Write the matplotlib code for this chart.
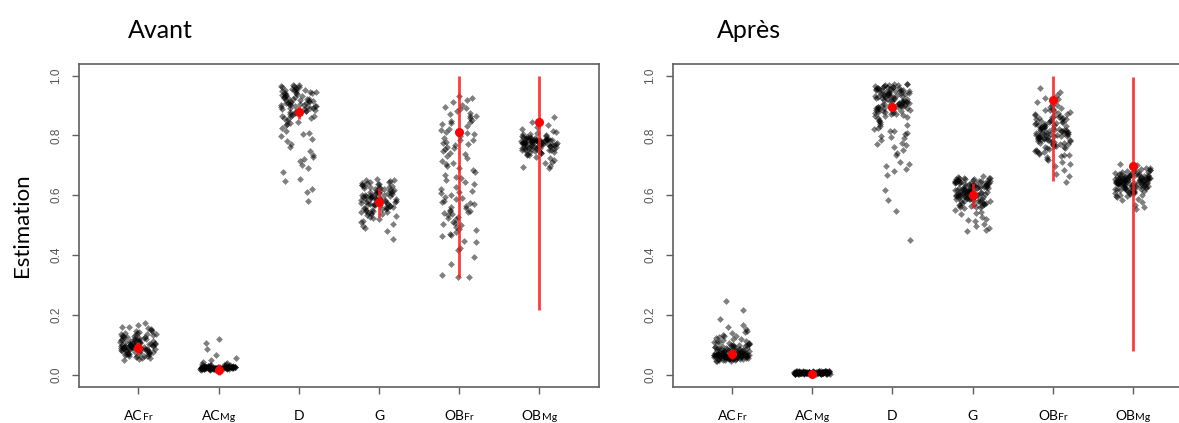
import numpy as np
import matplotlib
matplotlib.use("Agg")
import matplotlib.pyplot as plt
from matplotlib.transforms import ScaledTranslation, blended_transform_factory

# category labels: (large part, small part)
CATS = [("AC", "Fr"), ("AC", "Mg"), ("D", ""), ("G", ""), ("OB", "Fr"), ("OB", "Mg")]

# --- Avant: individual estimates (thousandths) ---
avant_acfr = [88, 102, 131, 67, 95, 119, 74, 143, 86, 109, 61, 127, 92, 158, 79, 104, 115, 69, 98, 136,
              83, 121, 57, 107, 90, 149, 73, 112, 96, 165, 81, 125, 64, 100, 138, 87, 117, 71, 94, 106,
              153, 77, 129, 60, 99, 111, 85, 140, 68, 103, 123, 91, 173, 76, 114, 97, 133, 63, 108, 84,
              147, 101, 70, 118, 93, 128, 55, 105, 89, 160, 80, 113, 66, 96, 135, 82, 120, 72, 110, 93,
              145, 52, 100, 126, 87, 116, 75, 98, 132, 62, 107, 90, 155, 78, 122, 48, 104, 86, 137, 95]
avant_acmg = [22, 25, 19, 28, 21, 24, 30, 18, 26, 23, 20, 27, 22, 33, 19, 25, 21, 29, 24, 17,
              26, 22, 31, 20, 23, 27, 18, 25, 21, 120, 24, 28, 19, 22, 26, 35, 20, 23, 105, 25,
              21, 30, 18, 24, 27, 22, 19, 26, 85, 23, 21, 28, 25, 20, 32, 22, 24, 18, 27, 23,
              65, 21, 26, 19, 25, 29, 22, 20, 24, 36, 23, 18, 27, 21, 55, 25, 22, 30, 19, 24,
              26, 20, 48, 23, 28, 21, 25, 17, 22, 34, 24, 19, 26, 42, 23, 20, 27, 21, 38, 25]
avant_d = [955, 912, 878, 940, 896, 863, 925, 968, 884, 905, 842, 931, 950, 871, 918, 897, 960, 853, 889, 934,
           907, 876, 946, 921, 965, 858, 893, 915, 938, 870, 903, 952, 886, 927, 845, 909, 962, 881, 917, 899,
           943, 866, 929, 956, 891, 873, 911, 936, 848, 968, 901, 924, 882, 947, 864, 913, 958, 895, 833, 920,
           941, 877, 906, 966, 888, 826, 932, 902, 859, 948, 815, 898, 923, 868, 944, 808, 880, 916, 797, 953,
           789, 874, 771, 908, 762, 939, 748, 890, 735, 722, 715, 702, 691, 679, 655, 648, 621, 612, 582, 726,
           780, 805, 838]
avant_g = [598, 563, 621, 547, 584, 640, 572, 609, 531, 590, 627, 556, 602, 645, 568, 579, 614, 541, 595, 633,
           551, 587, 618, 525, 575, 606, 648, 560, 592, 629, 544, 581, 612, 566, 637, 553, 599, 624, 535, 578,
           603, 652, 557, 589, 616, 520, 570, 596, 641, 548, 585, 630, 562, 607, 538, 593, 619, 574, 650, 545,
           583, 610, 528, 566, 600, 635, 555, 591, 623, 515, 577, 604, 643, 549, 588, 626, 558, 597, 510, 571,
           613, 639, 542, 582, 601, 655, 564, 594, 505, 620, 576, 536, 608, 498, 586, 490, 632, 482, 569, 455]
avant_obfr = [912, 845, 768, 703, 621, 578, 534, 487, 865, 797, 742, 668, 594, 552, 501, 443, 889, 821, 776, 715,
              652, 587, 546, 512, 462, 925, 858, 804, 753, 690, 606, 563, 528, 478, 418, 893, 837, 785, 731, 676,
              615, 571, 540, 495, 392, 930, 872, 812, 762, 709, 645, 582, 557, 519, 466, 370, 881, 830, 779, 724,
              662, 599, 548, 508, 448, 333, 903, 849, 791, 747, 696, 628, 574, 536, 483, 328, 918, 866, 817, 758,
              684, 610, 560, 523, 471, 327, 876, 841, 786, 737, 658, 591, 544, 505, 425, 896, 852, 809, 770, 639]
avant_obmg = [782, 765, 791, 748, 776, 803, 759, 785, 771, 742, 795, 779, 754, 788, 768, 812, 781, 736, 774, 797,
              762, 786, 751, 778, 820, 769, 783, 745, 790, 773, 757, 801, 780, 727, 766, 787, 750, 775, 794, 761,
              784, 718, 772, 809, 756, 779, 743, 789, 767, 783, 706, 776, 798, 753, 781, 764, 828, 770, 739, 786,
              758, 777, 805, 749, 782, 694, 771, 792, 760, 779, 733, 785, 766, 845, 774, 752, 788, 698, 780, 763,
              815, 745, 777, 790, 755, 781, 725, 768, 862, 784, 740, 773, 692, 796, 759, 778, 712, 787, 835, 769]

# --- Après: individual estimates (thousandths) ---
apres_acfr = [62, 71, 55, 84, 67, 93, 58, 76, 104, 64, 49, 88, 69, 115, 60, 79, 53, 97, 66, 73,
              126, 57, 82, 63, 108, 70, 51, 90, 65, 138, 59, 75, 101, 68, 47, 86, 61, 119, 72, 56,
              95, 64, 81, 52, 147, 66, 74, 111, 59, 89, 69, 46, 99, 62, 78, 131, 57, 85, 67, 54,
              106, 63, 71, 158, 60, 92, 48, 77, 65, 122, 58, 83, 70, 50, 102, 61, 74, 165, 66, 87,
              55, 96, 63, 68, 134, 52, 80, 60, 113, 72, 57, 91, 64, 45, 100, 69, 143, 59, 76, 62,
              185, 54, 86, 67, 118, 61, 73, 49, 95, 65, 215, 58, 81, 70, 107, 56, 152, 63, 248, 78,
              60, 128, 66, 84, 53, 98, 71, 62, 110, 57]
apres_acmg = [6, 8, 5, 10, 7, 4, 9, 6, 11, 5, 8, 7, 3, 9, 6, 12, 5, 7, 8, 4,
              10, 6, 9, 7, 5, 13, 8, 6, 4, 9, 7, 11, 5, 8, 6, 10, 3, 7, 9, 5,
              8, 6, 12, 7, 4, 9, 6, 8, 5, 10, 7, 6, 14, 8, 5, 9, 7, 4, 11, 6,
              8, 5, 10, 7, 9, 6, 3, 8, 7, 12, 5, 9, 6, 8, 4, 10, 7, 6, 9, 5,
              11, 8, 6, 7, 13, 5, 9, 4, 8, 6, 10, 7, 5, 9, 8, 6, 12, 7, 4, 10,
              6, 8, 5, 9, 7, 11, 6, 8, 3, 9, 7, 5, 10, 6, 8, 7, 4, 12, 9, 6]
apres_d = [945, 912, 968, 887, 931, 956, 903, 874, 940, 921, 962, 895, 858, 934, 971, 909, 882, 950, 926, 865,
           944, 898, 917, 963, 876, 937, 953, 890, 848, 929, 966, 906, 870, 942, 915, 957, 884, 924, 839, 948,
           901, 972, 879, 933, 911, 960, 893, 852, 938, 920, 969, 887, 908, 946, 864, 927, 955, 899, 830, 941,
           914, 964, 881, 935, 904, 952, 872, 919, 958, 892, 845, 939, 910, 967, 885, 930, 949, 897, 822, 943,
           913, 961, 878, 925, 906, 954, 868, 936, 970, 894, 815, 947, 916, 959, 889, 928, 805, 902, 951, 862,
           798, 934, 784, 921, 776, 880, 768, 955, 761, 895, 752, 740, 733, 712, 705, 697, 688, 681, 667, 617,
           583, 548, 451, 796, 823, 808, 790, 836, 772, 814]
apres_g = [612, 638, 587, 625, 649, 601, 573, 631, 656, 594, 618, 642, 566, 607, 633, 580, 652, 621, 597, 640,
           559, 614, 628, 589, 645, 605, 570, 636, 659, 592, 619, 647, 563, 609, 630, 583, 654, 616, 598, 641,
           575, 623, 650, 586, 611, 635, 556, 603, 644, 590, 627, 662, 578, 613, 639, 595, 620, 648, 568, 606,
           632, 582, 657, 617, 599, 643, 561, 624, 651, 588, 610, 637, 574, 602, 646, 593, 629, 665, 552, 615,
           634, 585, 653, 608, 596, 641, 572, 622, 649, 581, 604, 638, 565, 619, 655, 591, 626, 545, 612, 640,
           579, 600, 537, 631, 528, 586, 520, 644, 513, 597, 505, 623, 498, 560, 490, 607, 485, 571, 480, 632,
           518, 542, 659, 618, 603]
apres_obfr = [812, 776, 845, 798, 867, 752, 823, 889, 785, 834, 806, 741, 858, 792, 817, 878, 763, 829, 801, 853,
              774, 896, 818, 787, 839, 758, 808, 872, 794, 826, 747, 862, 781, 815, 903, 770, 841, 797, 825, 736,
              856, 803, 782, 884, 811, 768, 836, 795, 849, 727, 820, 789, 866, 805, 760, 832, 778, 893, 814, 799,
              847, 744, 827, 786, 875, 809, 766, 838, 791, 912, 821, 754, 859, 802, 780, 843, 816, 734, 870, 796,
              831, 772, 886, 807, 788, 851, 762, 824, 799, 920, 779, 840, 813, 749, 864, 793, 819, 731, 855, 804,
              784, 935, 828, 771, 846, 711, 812, 957, 698, 835, 683, 801, 672, 944, 665, 757, 645, 881, 722, 925,
              716, 900, 705, 861, 739]
apres_obmg = [648, 632, 665, 617, 654, 641, 678, 625, 659, 606, 645, 671, 636, 652, 614, 684, 640, 627, 662, 649,
              601, 668, 637, 655, 621, 690, 643, 630, 658, 611, 675, 646, 634, 662, 619, 651, 597, 681, 639, 656,
              625, 667, 642, 609, 653, 694, 631, 660, 647, 616, 672, 638, 654, 603, 663, 644, 628, 687, 650, 622,
              666, 635, 657, 612, 679, 643, 626, 661, 648, 593, 670, 639, 655, 618, 684, 646, 632, 664, 607, 652,
              641, 697, 624, 659, 637, 673, 614, 650, 645, 588, 668, 633, 656, 620, 688, 642, 629, 661, 601, 676,
              647, 700, 583, 663, 636, 576, 653, 705, 568, 640, 560, 669, 555, 644, 692, 598, 657, 611, 682, 625]

# red summary: point estimate and interval per category
avant_est = [0.089, 0.015, 0.878, 0.577, 0.810, 0.843]
avant_lo = [0.068, 0.000, 0.855, 0.528, 0.327, 0.215]
avant_hi = [0.110, 0.035, 0.898, 0.625, 0.997, 1.000]
apres_est = [0.070, 0.004, 0.896, 0.601, 0.918, 0.699]
apres_lo = [0.054, 0.000, 0.880, 0.557, 0.649, 0.078]
apres_hi = [0.087, 0.010, 0.912, 0.641, 1.000, 0.996]

JIT = 0.23
SPINE = "#5f5f5f"


def strip_offsets(n):
    # deterministic, irregular-looking spread in [-JIT, JIT] (quadratic Weyl sequence)
    i = np.arange(1, n + 1)
    frac = (i * 0.7548776662 + i * i * 0.5698402910) % 1.0
    return (frac - 0.5) * 2 * JIT


def draw_panel(ax, groups, est, lo, hi, fig):
    for k, vals in enumerate(groups):
        y = np.asarray(vals) / 1000.0
        x = (k + 1) + strip_offsets(len(y))
        ax.scatter(x, y, marker="D", s=12, color="black", alpha=0.5, linewidths=0, zorder=2)
    pos = np.arange(1, len(CATS) + 1)
    ax.vlines(pos, lo, hi, color="#ff1a1a", lw=2, alpha=0.85, zorder=3)
    ax.plot(pos, est, "o", color="red", ms=5.5, zorder=4)

    ax.set_xlim(0.26, 6.74)
    ax.set_ylim(-0.04, 1.04)
    ax.set_yticks([0, 0.2, 0.4, 0.6, 0.8, 1.0])
    ax.set_yticklabels(["0.0", "0.2", "0.4", "0.6", "0.8", "1.0"], rotation=90, va="center",
                       fontsize=8.5, color="#555555", family="Liberation Sans")
    ax.set_xticks(pos)
    ax.set_xticklabels([])
    ax.tick_params(axis="both", length=5, width=1, color=SPINE, pad=7)
    for s in ax.spines.values():
        s.set_color(SPINE)
        s.set_linewidth(1.2)

    # category names: big part + smaller suffix on the same baseline
    trans = blended_transform_factory(ax.transData, ax.transAxes)
    renderer = fig.canvas.get_renderer()
    for p, (big, small) in zip(pos, CATS):
        t1 = ax.text(p, 0, big, transform=trans, ha="right", va="baseline",
                     fontsize=10, family="Lato", color="black")
        w1 = t1.get_window_extent(renderer).width
        w2 = 0.0
        t2 = None
        if small:
            t2 = ax.text(p, 0, small, transform=trans, ha="left", va="baseline",
                         fontsize=7.5, family="Lato", color="black")
            w2 = t2.get_window_extent(renderer).width
        dx = (w1 - w2) / 2 / fig.dpi
        off = ScaledTranslation(dx, -33 / fig.dpi, fig.dpi_scale_trans)
        t1.set_transform(trans + off)
        if t2 is not None:
            t2.set_transform(trans + off)


fig = plt.figure(figsize=(11.79, 4.23), dpi=100)
ax1 = fig.add_axes([0.0670, 0.0858, 0.4408, 0.764])
ax2 = fig.add_axes([0.5706, 0.0858, 0.4408, 0.764])

draw_panel(ax1, [avant_acfr, avant_acmg, avant_d, avant_g, avant_obfr, avant_obmg],
           avant_est, avant_lo, avant_hi, fig)
draw_panel(ax2, [apres_acfr, apres_acmg, apres_d, apres_g, apres_obfr, apres_obmg],
           apres_est, apres_lo, apres_hi, fig)

ax1.text(-0.11, 0.5, "Estimation", transform=ax1.transAxes, rotation=90, ha="center", va="center",
         fontsize=16, family="Lato")
fig.text(0.1361, (423 - 38) / 423, "Avant", ha="center", va="baseline", fontsize=18, family="Lato")
fig.text(0.6353, (423 - 38) / 423, "Après", ha="center", va="baseline", fontsize=18, family="Lato")

fig.savefig("out.png", dpi=100)
